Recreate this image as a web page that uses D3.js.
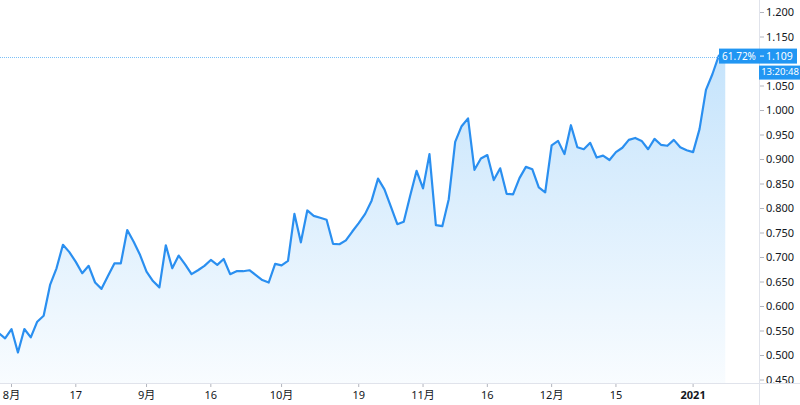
<!DOCTYPE html>
<html><head><meta charset="utf-8">
<script src="https://cdn.jsdelivr.net/npm/d3@7"></script>
<style>
html,body{margin:0;padding:0;background:#fff;}
svg{display:block;font-family:"Noto Sans","Noto Sans CJK SC",sans-serif;}
</style></head>
<body><svg id="c" width="800" height="405"></svg>
<script>
// Trading calendar (weekdays from start to end, minus exchange holidays)
const startDate = "2020-07-30";
const endDate = "2021-01-11";
const holidays = ["2020-09-07", "2020-11-26", "2020-12-25", "2021-01-01"];

// Closing values, one per trading day
const values = [
  0.546, 0.535, 0.554, 0.506, 0.554, 0.537, 0.569, 0.581, 0.644, 0.678,
  0.726, 0.711, 0.691, 0.668, 0.683, 0.649, 0.636, 0.662, 0.688, 0.688,
  0.756, 0.732, 0.705, 0.671, 0.652, 0.639, 0.725, 0.678, 0.704, 0.686,
  0.666, 0.674, 0.683, 0.695, 0.685, 0.697, 0.666, 0.672, 0.672, 0.674,
  0.664, 0.654, 0.649, 0.687, 0.684, 0.693, 0.789, 0.731, 0.796, 0.785,
  0.781, 0.777, 0.728, 0.727, 0.735, 0.753, 0.770, 0.789, 0.816, 0.861,
  0.839, 0.804, 0.768, 0.773, 0.826, 0.877, 0.841, 0.911, 0.766, 0.764,
  0.819, 0.936, 0.968, 0.984, 0.879, 0.902, 0.909, 0.858, 0.882, 0.830,
  0.829, 0.862, 0.885, 0.880, 0.843, 0.833, 0.929, 0.938, 0.911, 0.970,
  0.925, 0.921, 0.934, 0.904, 0.908, 0.899, 0.915, 0.924, 0.940, 0.944,
  0.938, 0.921, 0.942, 0.930, 0.928, 0.940, 0.925, 0.919, 0.915, 0.962,
  1.042, 1.074, 1.112, 1.109
];

// Axis ticks
const xTicks = [
  {date: "2020-08-03", label: "8月"},
  {date: "2020-08-17", label: "17"},
  {date: "2020-09-01", label: "9月"},
  {date: "2020-09-16", label: "16"},
  {date: "2020-10-01", label: "10月"},
  {date: "2020-10-19", label: "19"},
  {date: "2020-11-02", label: "11月"},
  {date: "2020-11-16", label: "16"},
  {date: "2020-12-01", label: "12月"},
  {date: "2020-12-15", label: "15"},
  {date: "2021-01-04", label: "2021", bold: true}
];
const yTicks = [0.45, 0.5, 0.55, 0.6, 0.65, 0.7, 0.75, 0.8, 0.85, 0.9, 0.95, 1.0, 1.05, 1.1, 1.15, 1.2];
const lastLabelPct = "61.72%";
const countdown = "13:20:48";

// build trading days
const fmt = d3.utcFormat("%Y-%m-%d");
const days = [];
for (let d = new Date(startDate + "T00:00:00Z"); d <= new Date(endDate + "T00:00:00Z"); d = new Date(d.getTime() + 86400000)) {
  const wd = d.getUTCDay();
  const s = fmt(d);
  if (wd !== 0 && wd !== 6 && !holidays.includes(s)) days.push(s);
}
const data = values.map((v, i) => ({i, date: days[i], v}));

const W = 800, H = 405;
const paneRight = 759, paneBottom = 383;
const svg = d3.select("#c");

const x = d3.scaleLinear().domain([2, 108]).range([11.5, 693.1]);
const y = d3.scaleLinear().domain([0.45, 1.2]).range([380, 12.5]);

const defs = svg.append("defs");
const grad = defs.append("linearGradient").attr("id", "g")
  .attr("gradientUnits", "userSpaceOnUse").attr("x1", 0).attr("x2", 0).attr("y1", 0).attr("y2", paneBottom);
grad.append("stop").attr("offset", 0).attr("stop-color", "#2196f3").attr("stop-opacity", 0.30);
grad.append("stop").attr("offset", 1).attr("stop-color", "#2196f3").attr("stop-opacity", 0.03);
defs.append("clipPath").attr("id", "pane").append("rect").attr("x", 0).attr("y", 0).attr("width", paneRight).attr("height", paneBottom);
defs.append("clipPath").attr("id", "yax").append("rect").attr("x", paneRight).attr("y", 0).attr("width", W - paneRight).attr("height", paneBottom);

const pane = svg.append("g").attr("clip-path", "url(#pane)");
pane.append("path").datum(data)
  .attr("d", d3.area().x(d => x(d.i)).y0(paneBottom).y1(d => y(d.v)))
  .attr("fill", "url(#g)");
pane.append("path").datum(data)
  .attr("d", d3.line().x(d => x(d.i)).y(d => y(d.v)))
  .attr("fill", "none").attr("stroke", "#2a8ff0").attr("stroke-width", 2.2)
  .attr("stroke-linejoin", "round").attr("stroke-linecap", "round");

const last = data[data.length - 1];
const ly = y(last.v);
// dotted price line
pane.append("line").attr("x1", 0).attr("x2", paneRight).attr("y1", Math.round(ly) + 0.5).attr("y2", Math.round(ly) + 0.5)
  .attr("stroke", "#7cc0f7").attr("stroke-width", 1).attr("stroke-dasharray", "1,1");

// axes lines
svg.append("line").attr("x1", paneRight + 0.5).attr("x2", paneRight + 0.5).attr("y1", 0).attr("y2", H).attr("stroke", "#e0e3eb");
svg.append("line").attr("x1", 0).attr("x2", W).attr("y1", paneBottom + 0.5).attr("y2", paneBottom + 0.5).attr("stroke", "#e0e3eb");

// y axis (labels hidden where the last-value labels cover them)
const yg = svg.append("g").attr("clip-path", "url(#yax)");
yTicks.forEach(t => {
  const yy = y(t);
  if (yy > ly - 14 && yy < ly + 28) return;
  yg.append("line").attr("x1", paneRight + 1).attr("x2", paneRight + 5).attr("y1", yy).attr("y2", yy).attr("stroke", "#b2b5be");
  yg.append("text").attr("x", 766).attr("y", yy).attr("dy", "0.35em")
    .attr("font-size", 11).attr("fill", "#131722").text(d3.format(".3f")(t));
});

// x axis
const idx = new Map(days.map((d, i) => [d, i]));
xTicks.forEach(t => {
  const xx = x(idx.get(t.date));
  svg.append("line").attr("x1", xx).attr("x2", xx).attr("y1", paneBottom + 1).attr("y2", paneBottom + 4).attr("stroke", "#b2b5be");
  svg.append("text").attr("x", xx).attr("y", 399).attr("text-anchor", "middle")
    .attr("font-size", 11).attr("font-weight", t.bold ? 700 : 400).attr("fill", "#131722").text(t.label);
});

// last value labels
svg.append("rect").attr("x", 719).attr("y", ly - 8.5).attr("width", 40).attr("height", 15).attr("fill", "#2196f3");
svg.append("text").attr("x", 739).attr("y", ly - 1).attr("dy", "0.35em").attr("text-anchor", "middle")
  .attr("font-size", 10).attr("fill", "#fff").text(lastLabelPct);
svg.append("rect").attr("x", paneRight).attr("y", ly - 8.5).attr("width", 38).attr("height", 15).attr("fill", "#2196f3");
svg.append("line").attr("x1", paneRight + 1).attr("x2", paneRight + 5).attr("y1", ly - 1).attr("y2", ly - 1).attr("stroke", "#fff");
svg.append("text").attr("x", 766).attr("y", ly - 1).attr("dy", "0.35em")
  .attr("font-size", 10.5).attr("fill", "#fff").text(d3.format(".3f")(last.v));
svg.append("rect").attr("x", paneRight).attr("y", ly + 8.5).attr("width", 41).attr("height", 14).attr("fill", "#2196f3");
svg.append("text").attr("x", 780).attr("y", ly + 15).attr("dy", "0.35em").attr("text-anchor", "middle")
  .attr("font-size", 9.5).attr("fill", "#fff").text(countdown);
</script></body></html>
